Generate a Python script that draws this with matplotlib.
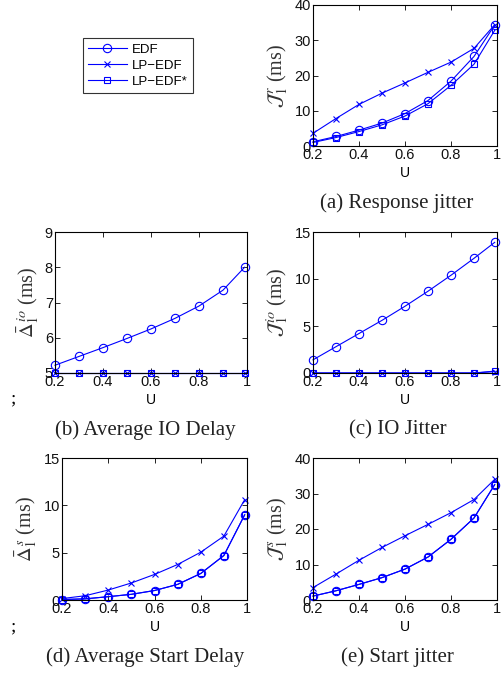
import matplotlib
matplotlib.use("Agg")
import matplotlib.pyplot as plt

plt.rcParams['mathtext.fontset'] = 'stix'
plt.rcParams['font.family'] = ['Liberation Sans', 'DejaVu Sans']

U = [0.2, 0.3, 0.4, 0.5, 0.6, 0.7, 0.8, 0.9, 0.99]
names = ["EDF", "LP\u2212EDF", "LP\u2212EDF*"]

# (a) response jitter
resp_edf = [1.2, 2.7, 4.5, 6.5, 9.2, 12.9, 18.4, 25.4, 34.3]
resp_lp = [3.6, 7.8, 11.8, 15.0, 17.9, 20.9, 23.8, 27.7, 34.4]
resp_lps = [1.0, 2.4, 4.1, 6.0, 8.5, 12.0, 17.2, 23.2, 32.8]

# (b) average IO delay
iod_edf = [5.22, 5.47, 5.72, 5.98, 6.25, 6.55, 6.9, 7.35, 8.0]
iod_lp = [5.0, 5.0, 5.0, 5.0, 5.0, 5.0, 5.0, 5.0, 5.0]
iod_lps = [5.0, 5.0, 5.0, 5.0, 5.0, 5.0, 5.0, 5.0, 5.0]

# (c) IO jitter
ioj_edf = [1.4, 2.8, 4.2, 5.6, 7.1, 8.7, 10.4, 12.2, 13.9]
ioj_lp = [0, 0, 0, 0, 0, 0, 0, 0, 0.15]
ioj_lps = [0, 0, 0, 0, 0, 0, 0, 0, 0.2]

# (d) average start delay
sd_edf = [0.05, 0.12, 0.35, 0.6, 1.0, 1.65, 2.8, 4.7, 9.0]
sd_lp = [0.15, 0.45, 1.05, 1.8, 2.7, 3.75, 5.05, 6.75, 10.6]
sd_lps = [0.05, 0.12, 0.35, 0.6, 1.0, 1.65, 2.8, 4.7, 9.0]

# (e) start jitter
sj_edf = [1.1, 2.6, 4.4, 6.3, 8.7, 12.1, 17.1, 23.1, 32.5]
sj_lp = [3.5, 7.3, 11.2, 14.8, 18.1, 21.3, 24.6, 28.3, 34.0]
sj_lps = [1.1, 2.6, 4.4, 6.3, 8.7, 12.1, 17.1, 23.1, 32.5]

W, H = 504, 673
fig = plt.figure(figsize=(W / 100, H / 100), dpi=100)


def box(l, t, r, b):
    return [l / W, 1 - b / H, (r - l) / W, (b - t) / H]


panels = [
    (box(313, 5, 497, 146), (resp_edf, resp_lp, resp_lps), (0, 40), [0, 10, 20, 30, 40],
     r'$\mathcal{J}_1^{\,r}$', "(a) Response jitter", (397, 203)),
    (box(55, 232, 247, 373), (iod_edf, iod_lp, iod_lps), (5, 9), [5, 6, 7, 8, 9],
     r'$\bar{\Delta}_1^{\,io}$', "(b) Average IO Delay", (145, 430)),
    (box(313, 232, 497, 373), (ioj_edf, ioj_lp, ioj_lps), (0, 15), [0, 5, 10, 15],
     r'$\mathcal{J}_1^{\,io}$', "(c) IO Jitter", (398, 430)),
    (box(62, 458, 247, 600), (sd_edf, sd_lp, sd_lps), (0, 15), [0, 5, 10, 15],
     r'$\bar{\Delta}_1^{\,s}$', "(d) Average Start Delay", (145, 657)),
    (box(313, 458, 497, 600), (sj_edf, sj_lp, sj_lps), (0, 40), [0, 10, 20, 30, 40],
     r'$\mathcal{J}_1^{\,s}$', "(e) Start jitter", (397, 657)),
]

markers = [dict(marker='o', markersize=6), dict(marker='x', markersize=4.5),
           dict(marker='s', markersize=4.5)]

handles = None
for pos, series, ylim, yt, sym, cap, cxy in panels:
    ax = fig.add_axes(pos)
    hs = []
    for vals, mk, nm in zip(series, markers, names):
        h, = ax.plot(U, vals, color='blue', lw=0.8, mfc='none', mec='blue',
                     mew=0.8, clip_on=False, label=nm, **mk)
        hs.append(h)
    if handles is None:
        handles = hs
    ax.set_xlim(0.2, 1.0)
    ax.set_ylim(*ylim)
    ax.set_xticks([0.2, 0.4, 0.6, 0.8, 1.0])
    ax.set_xticklabels(["0.2", "0.4", "0.6", "0.8", "1"])
    ax.set_yticks(yt)
    ax.tick_params(direction='in', top=True, right=True, length=3.5,
                   width=0.6, labelsize=10.5, pad=1.5, labelcolor='#111111')
    for s in ax.spines.values():
        s.set_linewidth(0.8)
    ax.set_xlabel("U", fontsize=10, labelpad=3)
    ax.set_ylabel(sym + ' (ms)', fontsize=14.5, family='Liberation Serif',
                  color='#333333', labelpad=3)
    fig.text(cxy[0] / W, 1 - cxy[1] / H, cap, ha='center', va='center',
             fontsize=15, family='Liberation Serif', color='#222222')

for y in (399, 627):
    fig.text(13 / W, 1 - y / H, ";", ha='center', va='center', fontsize=14,
             family='Liberation Serif')

leg = fig.legend(handles=handles, loc='upper left',
                 bbox_to_anchor=(83 / W, 1 - 38 / H), fontsize=9.5,
                 frameon=True, fancybox=False, edgecolor='black',
                 handlelength=2.9, borderpad=0.4, labelspacing=0.3,
                 handletextpad=0.4, borderaxespad=0)
leg.get_frame().set_linewidth(0.8)

fig.savefig("out.png", dpi=100)
